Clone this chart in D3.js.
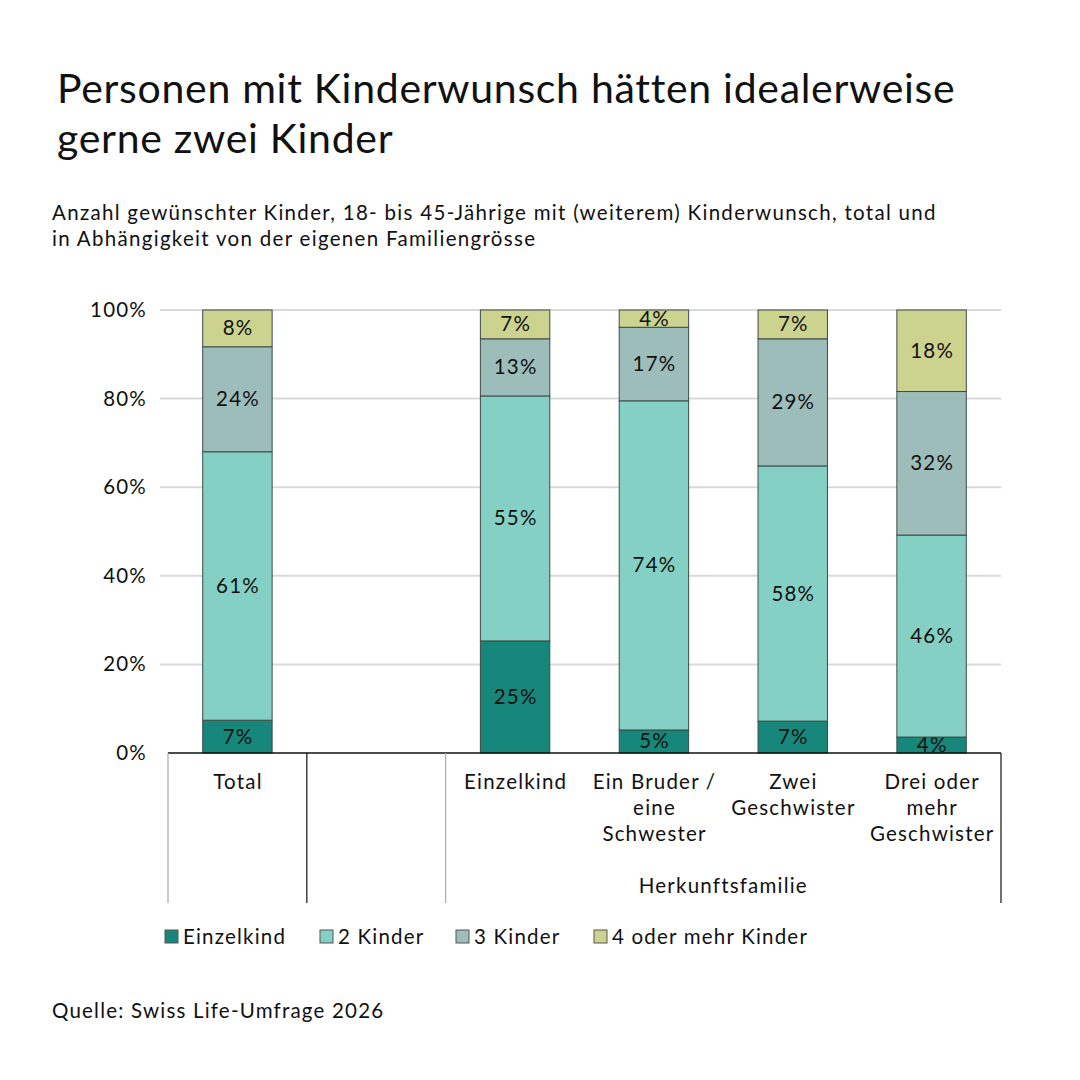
<!DOCTYPE html>
<html><head><meta charset="utf-8">
<script src="https://cdn.jsdelivr.net/npm/d3@7"></script>
<style>body{margin:0;background:#fff;} svg{display:block;font-family:Lato, "Noto Sans", sans-serif;}</style>
</head><body>
<svg id="c" width="1080" height="1080"></svg>
<script>
const categories = ["Total", "", "Einzelkind", "Ein Bruder /|eine|Schwester", "Zwei|Geschwister", "Drei oder|mehr|Geschwister"];
const seriesNames = ["Einzelkind", "2 Kinder", "3 Kinder", "4 oder mehr Kinder"];
const seriesColors = ["#16877a", "#85d0c4", "#9dbdbb", "#ccd38f"];
const einzelkind = [7.4, null, 25.3, 5.2, 7.2, 3.6];
const zweiKinder = [60.6, null, 55.3, 74.3, 57.6, 45.6];
const dreiKinder = [23.7, null, 12.9, 16.6, 28.7, 32.4];
const vierPlus   = [8.3, null, 6.6, 3.9, 6.6, 18.4];
const yTicks = [0, 20, 40, 60, 80, 100];
const groupLabel = "Herkunftsfamilie";
const title = ["Personen mit Kinderwunsch hätten idealerweise", "gerne zwei Kinder"];
const subtitle = ["Anzahl gewünschter Kinder, 18- bis 45-Jährige mit (weiterem) Kinderwunsch, total und", "in Abhängigkeit von der eigenen Familiengrösse"];
const source = "Quelle: Swiss Life-Umfrage 2026";

const svg = d3.select("#c");
const L = 168, R = 1001, T = 310, B = 753;
const FS = 20.5, LS = 1.2;
const x = d3.scaleBand().domain(d3.range(categories.length)).range([L, R]).paddingInner(0).paddingOuter(0);
const y = d3.scaleLinear().domain([0, 100]).range([B, T]);

// title
svg.append("g").selectAll("text").data(title).join("text")
  .attr("x", 57).attr("y", (d,i)=>103 + i*50).attr("font-size", 41).attr("letter-spacing", 0.7).attr("fill", "#111").text(d=>d);
svg.append("g").selectAll("text").data(subtitle).join("text")
  .attr("x", 52).attr("y", (d,i)=>220 + i*26).attr("font-size", FS).attr("letter-spacing", 1.3).attr("fill", "#111").text(d=>d);

// grid
svg.append("g").selectAll("line").data(yTicks.filter(d=>d>0)).join("line")
  .attr("x1", 160).attr("x2", R).attr("y1", d=>y(d)).attr("y2", d=>y(d))
  .attr("stroke", "#d9d9d9").attr("stroke-width", 2);
svg.append("g").selectAll("text").data(yTicks).join("text")
  .attr("x", 147).attr("y", d=>y(d)+7).attr("text-anchor", "end").attr("font-size", FS).attr("letter-spacing", LS).attr("fill", "#111")
  .text(d=>d + "%");

// stacked data
const rows = categories.map((c,i)=>({i, vals:[einzelkind[i], zweiKinder[i], dreiKinder[i], vierPlus[i]]}));
const bw = x.bandwidth()*0.5;
rows.forEach(r=>{
  if (r.vals[0] == null) return;
  let cum = 0;
  r.vals.forEach((v,k)=>{
    const y0 = cum, y1 = cum + v; cum = y1;
    const cx = x(r.i) + x.bandwidth()/2;
    svg.append("rect").attr("x", cx - bw/2).attr("width", bw)
      .attr("y", y(Math.min(y1,100))).attr("height", y(y0) - y(Math.min(y1,100)))
      .attr("fill", seriesColors[k]).attr("stroke", "#3d4a48").attr("stroke-width", 1);
    svg.append("text").attr("x", cx + LS/2).attr("y", (y(y0)+y(Math.min(y1,100)))/2 + 7)
      .attr("text-anchor", "middle").attr("font-size", FS).attr("letter-spacing", LS).attr("fill", "#111")
      .text(Math.round(v) + "%");
  });
});

// axis baseline
svg.append("line").attr("x1", L).attr("x2", R).attr("y1", B).attr("y2", B).attr("stroke", "#111").attr("stroke-width", 1.5);
// separators
const seps = [{x:L, c:"#aaa"}, {x:x(1), c:"#111"}, {x:x(2), c:"#aaa"}, {x:R, c:"#111"}];
svg.append("g").selectAll("line").data(seps).join("line")
  .attr("x1", d=>d.x).attr("x2", d=>d.x).attr("y1", B).attr("y2", 903)
  .attr("stroke", d=>d.c).attr("stroke-width", 1.2);

// category labels
categories.forEach((c,i)=>{
  if (!c) return;
  const lines = c.split("|");
  const t = svg.append("text").attr("text-anchor", "middle").attr("font-size", FS).attr("letter-spacing", LS).attr("fill", "#111");
  lines.forEach((l,j)=>t.append("tspan").attr("x", x(i)+x.bandwidth()/2 + LS/2).attr("y", 789 + j*26).text(l));
});
svg.append("text").attr("x", (x(2)+R)/2).attr("y", 893).attr("text-anchor", "middle").attr("font-size", FS).attr("letter-spacing", LS).attr("fill", "#111").text(groupLabel);

// legend
const legX = [165, 320, 456, 594];
const lg = svg.append("g").selectAll("g").data(seriesNames).join("g").attr("transform", (d,i)=>`translate(${legX[i]},930)`);
lg.append("rect").attr("width", 13).attr("height", 13).attr("fill", (d,i)=>seriesColors[i]).attr("stroke", "#555").attr("stroke-width", 1);
lg.append("text").attr("x", 18).attr("y", 14).attr("font-size", FS).attr("letter-spacing", LS).attr("fill", "#111").text(d=>d);

svg.append("text").attr("x", 52).attr("y", 1018).attr("font-size", FS).attr("letter-spacing", LS).attr("fill", "#111").text(source);
</script>
</body></html>
